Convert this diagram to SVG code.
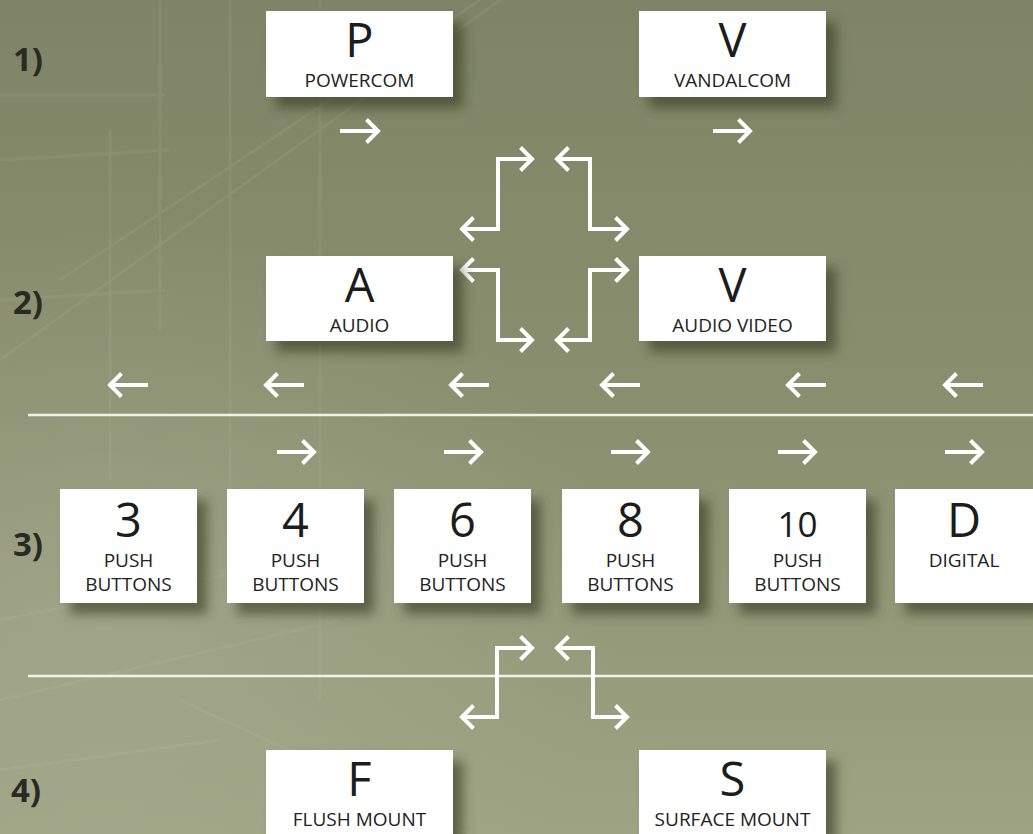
<svg xmlns="http://www.w3.org/2000/svg" width="1033" height="834" viewBox="0 0 1033 834">
<defs>
<linearGradient id="bg" x1="0" y1="0" x2="0" y2="1">
<stop offset="0" stop-color="#7e8465"/>
<stop offset="0.5" stop-color="#8a8f6f"/>
<stop offset="1" stop-color="#9ea383"/>
</linearGradient>
<radialGradient id="glow" cx="0.1" cy="0.75" r="0.5">
<stop offset="0" stop-color="#b0b49a" stop-opacity="0.45"/>
<stop offset="1" stop-color="#b0b49a" stop-opacity="0"/>
</radialGradient>
<filter id="sh" x="-20%" y="-20%" width="150%" height="160%">
<feDropShadow dx="10" dy="11" stdDeviation="6" flood-color="#3a3c28" flood-opacity="0.65"/>
</filter>
<marker id="ah" viewBox="-16 -16 20 32" markerWidth="20" markerHeight="32" refX="0" refY="0" orient="auto-start-reverse" markerUnits="userSpaceOnUse">
<path d="M-11.5,-11.5 L0,0 L-11.5,11.5" fill="none" stroke="#ffffff" stroke-width="4"/>
</marker>
<style>
.box{fill:#ffffff;filter:url(#sh)}
.big{font-family:"Open Sans","Noto Sans",sans-serif;font-size:47px;fill:#1c1c1c;text-anchor:middle}
.small{font-size:35px}
.lab{font-family:"Open Sans","Noto Sans",sans-serif;font-size:19px;fill:#222;text-anchor:middle}
.row{font-family:"Open Sans","Noto Sans",sans-serif;font-size:33px;font-weight:bold;fill:#2a2a22}
.con{fill:none;stroke:#ffffff;stroke-width:4;marker-start:url(#ah);marker-end:url(#ah)}
.one{fill:none;stroke:#ffffff;stroke-width:4;marker-end:url(#ah)}
.rule{stroke:#f2f2ea;stroke-width:2.5}
.deco{stroke:#c8cbb4;stroke-opacity:0.1;stroke-width:3;fill:none}
</style>
</defs>
<rect width="1033" height="834" fill="url(#bg)"/>
<rect width="1033" height="834" fill="url(#glow)"/>
<g id="background-lines">
<path class="deco" d="M0,160 L170,150 M0,300 L165,290 M0,95 H165 M160,0 V330 M230,0 V600 M320,0 V700 M110,130 V480 M60,280 L480,0 M0,360 L500,0 M0,620 L300,560 M0,700 L340,620 M180,700 L470,834 M0,770 L220,740"/>
</g>
<g id="rules">
<line class="rule" x1="28" y1="415" x2="1033" y2="415"/>
<line class="rule" x1="28" y1="676" x2="1033" y2="676"/>
</g>
<g id="row-labels">
<text class="row" x="13" y="71">1)</text>
<text class="row" x="13" y="314">2)</text>
<text class="row" x="13" y="556">3)</text>
<text class="row" x="11" y="802">4)</text>
</g>
<g id="connectors">
<path class="one" d="M340,131 H378"/>
<path class="one" d="M713,131 H750"/>
<path class="con" d="M462,229 H498 V159 H532"/>
<path class="con" d="M557,159 H590 V229 H627"/>
<path class="con" d="M462,270 H498 V340 H532"/>
<path class="con" d="M557,340 H590 V270 H627"/>
<path class="one" d="M148,385 H110"/>
<path class="one" d="M304,385 H266"/>
<path class="one" d="M489,385 H451"/>
<path class="one" d="M640,385 H602"/>
<path class="one" d="M826,385 H788"/>
<path class="one" d="M983,385 H945"/>
<path class="one" d="M277,452 H314"/>
<path class="one" d="M444,452 H481"/>
<path class="one" d="M611,452 H648"/>
<path class="one" d="M778,452 H815"/>
<path class="one" d="M945,452 H982"/>
<path class="con" d="M462,717 H497 V648 H532"/>
<path class="con" d="M557,648 H593 V717 H627"/>
</g>
<g id="node-powercom">
<rect class="box" x="266" y="11" width="187" height="86"/>
<text class="big" x="359.5" y="57">P</text>
<text class="lab" x="359.5" y="87">POWERCOM</text>
</g>
<g id="node-vandalcom">
<rect class="box" x="639" y="11" width="187" height="86"/>
<text class="big" x="732.5" y="57">V</text>
<text class="lab" x="732.5" y="87">VANDALCOM</text>
</g>
<g id="node-audio">
<rect class="box" x="266" y="256" width="187" height="85"/>
<text class="big" x="359.5" y="302">A</text>
<text class="lab" x="359.5" y="332">AUDIO</text>
</g>
<g id="node-audio-video">
<rect class="box" x="639" y="256" width="187" height="85"/>
<text class="big" x="732.5" y="302">V</text>
<text class="lab" x="732.5" y="332">AUDIO VIDEO</text>
</g>
<g id="node-3">
<rect class="box" x="60" y="489" width="137" height="114"/>
<text class="big" x="128.5" y="537">3</text>
<text class="lab" x="128.5" y="567">PUSH</text>
<text class="lab" x="128.5" y="591">BUTTONS</text>
</g>
<g id="node-4">
<rect class="box" x="227" y="489" width="137" height="114"/>
<text class="big" x="295.5" y="537">4</text>
<text class="lab" x="295.5" y="567">PUSH</text>
<text class="lab" x="295.5" y="591">BUTTONS</text>
</g>
<g id="node-6">
<rect class="box" x="394" y="489" width="137" height="114"/>
<text class="big" x="462.5" y="537">6</text>
<text class="lab" x="462.5" y="567">PUSH</text>
<text class="lab" x="462.5" y="591">BUTTONS</text>
</g>
<g id="node-8">
<rect class="box" x="562" y="489" width="137" height="114"/>
<text class="big" x="630.5" y="537">8</text>
<text class="lab" x="630.5" y="567">PUSH</text>
<text class="lab" x="630.5" y="591">BUTTONS</text>
</g>
<g id="node-10">
<rect class="box" x="729" y="489" width="137" height="114"/>
<text class="big small" x="797.5" y="537">10</text>
<text class="lab" x="797.5" y="567">PUSH</text>
<text class="lab" x="797.5" y="591">BUTTONS</text>
</g>
<g id="node-digital">
<rect class="box" x="895" y="489" width="138" height="114"/>
<text class="big" x="964" y="537">D</text>
<text class="lab" x="964" y="567">DIGITAL</text>
</g>
<g id="node-flush">
<rect class="box" x="266" y="750" width="187" height="90"/>
<text class="big" x="359.5" y="796">F</text>
<text class="lab" x="359.5" y="826">FLUSH MOUNT</text>
</g>
<g id="node-surface">
<rect class="box" x="639" y="750" width="187" height="90"/>
<text class="big" x="732.5" y="796">S</text>
<text class="lab" x="732.5" y="826">SURFACE MOUNT</text>
</g>
</svg>
